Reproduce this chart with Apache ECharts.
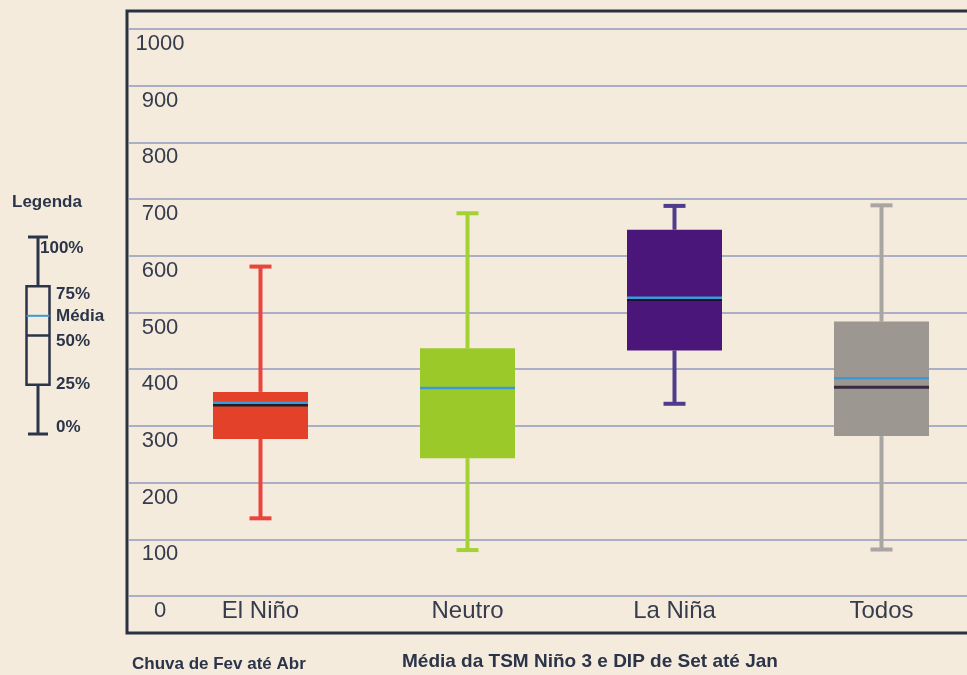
<!DOCTYPE html>
<html>
<head>
<meta charset="utf-8">
<script src="https://cdn.jsdelivr.net/npm/echarts@6/dist/echarts.min.js"></script>
<style>
  html, body { margin: 0; padding: 0; background: #f4ebdd; }
  #chart { width: 967px; height: 675px; }
</style>
</head>
<body>
<div id="chart"></div>
<script>
// rainfall (mm), Feb-Apr, grouped by ENSO phase
const categories = ["El Niño", "Neutro", "La Niña", "Todos"];
const minimo = [137, 81, 339, 82];
const quartil1 = [277, 243, 433, 282];
const mediana = [337, null, 523, 368];
const quartil3 = [360, 437, 646, 484];
const maximo = [581, 675, 688, 689];
const media = [341, 367, 526, 384];
const yTicks = [0, 100, 200, 300, 400, 500, 600, 700, 800, 900, 1000];

// legend diagram: quantiles in percent
const legendQuantis = [0, 25, 50, 75, 100];
const legendMedia = 60;

const boxFill = ["#e4412b", "#9cc92a", "#4b1679", "#9d9792"];
const whiskerColor = ["#e8453f", "#a3d232", "#4e3c8c", "#a9a5a3"];
const medianColor = ["#1d1f2a", "#1d1f2a", "#1a1030", "#3a2a40"];

const textColor = "#363c4d";
const navy = "#2b3448";

const rows = categories.map((c, i) => [i, minimo[i], quartil1[i], mediana[i], quartil3[i], maximo[i], media[i]]);
const legendRow = [[0].concat(legendQuantis, [legendMedia])];

function makeRender(opts) {
  return function (params, api) {
    const i = api.value(0);
    const cx = api.coord([i, 0])[0];
    const y = (k) => api.coord([i, api.value(k)])[1];
    const st = opts.style(i);
    const half = opts.boxWidth / 2;
    const cap = opts.capWidth / 2;
    const yMin = y(1), yQ1 = y(2), yQ3 = y(4), yMax = y(5), yMean = y(6);
    const children = [
      { type: "line", shape: { x1: cx, y1: yMin, x2: cx, y2: yQ1 }, style: { stroke: st.whisker, lineWidth: opts.whiskerWidth } },
      { type: "line", shape: { x1: cx, y1: yQ3, x2: cx, y2: yMax }, style: { stroke: st.whisker, lineWidth: opts.whiskerWidth } },
      { type: "line", shape: { x1: cx - cap, y1: yMin, x2: cx + cap, y2: yMin }, style: { stroke: st.whisker, lineWidth: opts.capLine } },
      { type: "line", shape: { x1: cx - cap, y1: yMax, x2: cx + cap, y2: yMax }, style: { stroke: st.whisker, lineWidth: opts.capLine } },
      { type: "rect", shape: { x: cx - half, y: yQ3, width: opts.boxWidth, height: yQ1 - yQ3 },
        style: { fill: st.fill, stroke: st.stroke, lineWidth: st.strokeWidth } }
    ];
    const med = api.value(3);
    if (med != null && !isNaN(med)) {
      const yMed = y(3);
      children.push({ type: "line", shape: { x1: cx - half, y1: yMed, x2: cx + half, y2: yMed },
        style: { stroke: st.median, lineWidth: opts.medianWidth } });
    }
    children.push({ type: "line", shape: { x1: cx - half, y1: yMean, x2: cx + half, y2: yMean },
      style: { stroke: "#3a9ad8", lineWidth: opts.meanWidth } });
    return { type: "group", children: children };
  };
}

const chart = echarts.init(document.getElementById("chart"));
const legendFont = "bold 17px 'Liberation Sans'";

chart.setOption({
  backgroundColor: "#f4ebdd",
  animation: false,
  grid: [
    { left: 157, width: 828, top: 29, bottom: 79, outerBoundsMode: "none" },
    { left: 20, width: 36, top: 237, height: 197, outerBoundsMode: "none" },
    { left: 129, right: 0, top: 29, bottom: 79, outerBoundsMode: "none" }
  ],
  xAxis: [
    {
      type: "category",
      data: categories,
      gridIndex: 0,
      axisLine: { show: false },
      axisTick: { show: false },
      axisLabel: { color: textColor, fontSize: 24, fontFamily: "Liberation Sans", margin: 3, verticalAlign: "top" }
    },
    { type: "category", data: ["Legenda"], gridIndex: 1, show: false },
    { type: "value", gridIndex: 2, show: false }
  ],
  yAxis: [
    {
      type: "value",
      gridIndex: 0,
      min: 0,
      max: 1000,
      interval: 100,
      axisLine: { show: false },
      axisTick: { show: false },
      splitLine: { show: false },
      axisLabel: {
        color: textColor, fontSize: 22, fontFamily: "Liberation Sans",
        align: "center", margin: -3, verticalAlign: "top", padding: [4, 0, 0, 0],
        formatter: (v) => (yTicks.includes(v) ? String(v) : "")
      }
    },
    { type: "value", gridIndex: 1, min: 0, max: 100, show: false },
    {
      type: "value",
      gridIndex: 2,
      min: 0,
      max: 1000,
      interval: 100,
      axisLine: { show: false },
      axisTick: { show: false },
      axisLabel: { show: false },
      splitLine: { lineStyle: { color: "#abafc6", width: 2 } }
    }
  ],
  graphic: [
    { type: "rect", shape: { x: 127, y: 11, width: 900, height: 622 }, style: { fill: "none", stroke: "#2a3142", lineWidth: 3 }, z: 10 },
    { type: "text", left: 12, top: 194, style: { text: "Legenda", fill: navy, font: "bold 17px 'Liberation Sans'" } },
    { type: "text", x: 40, y: 248, style: { text: "100%", fill: navy, font: legendFont, verticalAlign: "middle" } },
    { type: "text", x: 56, y: 294, style: { text: "75%", fill: navy, font: legendFont, verticalAlign: "middle" } },
    { type: "text", x: 56, y: 316, style: { text: "Média", fill: navy, font: legendFont, verticalAlign: "middle" } },
    { type: "text", x: 56, y: 341, style: { text: "50%", fill: navy, font: legendFont, verticalAlign: "middle" } },
    { type: "text", x: 56, y: 384, style: { text: "25%", fill: navy, font: legendFont, verticalAlign: "middle" } },
    { type: "text", x: 56, y: 427, style: { text: "0%", fill: navy, font: legendFont, verticalAlign: "middle" } },
    { type: "text", x: 132, y: 664, style: { text: "Chuva de Fev até Abr", fill: navy, font: "bold 17px 'Liberation Sans'", verticalAlign: "middle" } },
    { type: "text", x: 402, y: 662, style: { text: "Média da TSM Niño 3 e DIP de Set até Jan", fill: navy, font: "bold 19px 'Liberation Sans'", verticalAlign: "middle" } }
  ],
  series: [
    {
      type: "custom",
      xAxisIndex: 0,
      yAxisIndex: 0,
      encode: { x: 0, y: [1, 2, 3, 4, 5, 6] },
      data: rows,
      renderItem: makeRender({
        boxWidth: 95, capWidth: 22, whiskerWidth: 4, capLine: 4, medianWidth: 3, meanWidth: 2.5,
        style: (i) => ({ fill: boxFill[i], stroke: "none", strokeWidth: 0, whisker: whiskerColor[i], median: medianColor[i] })
      })
    },
    {
      type: "custom",
      xAxisIndex: 1,
      yAxisIndex: 1,
      encode: { x: 0, y: [1, 2, 3, 4, 5, 6] },
      data: legendRow,
      renderItem: makeRender({
        boxWidth: 23, capWidth: 20, whiskerWidth: 3, capLine: 3, medianWidth: 2.5, meanWidth: 2,
        style: () => ({ fill: "none", stroke: navy, strokeWidth: 2.5, whisker: navy, median: navy })
      })
    }
  ]
});
</script>
</body>
</html>
